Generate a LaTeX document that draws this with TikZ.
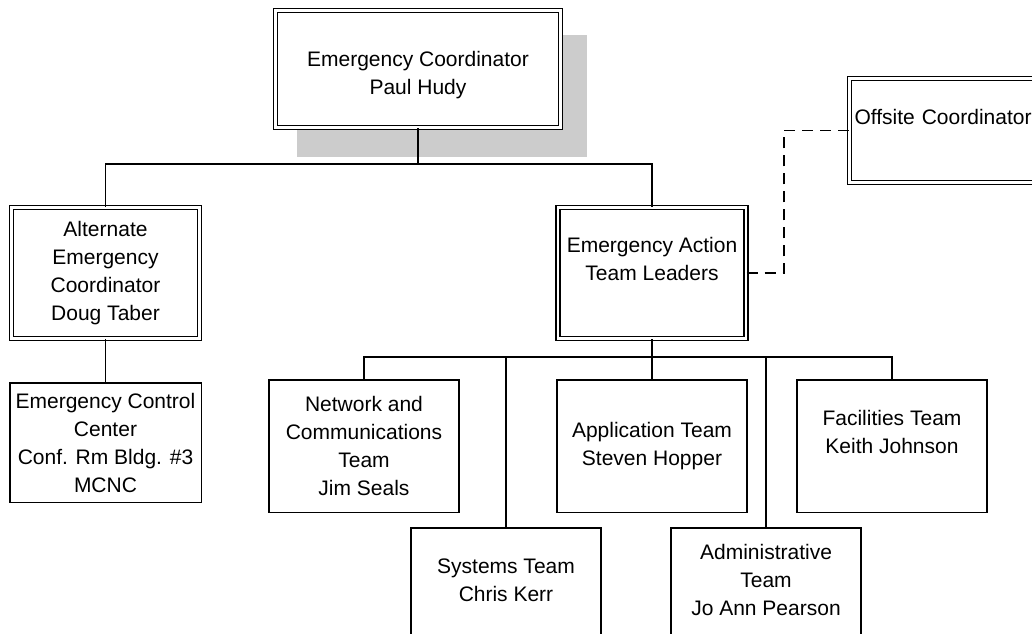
\documentclass[tikz,border=0pt]{standalone}
\usepackage{fontspec}
\setmainfont{Liberation Sans}
\usetikzlibrary{positioning}

\tikzset{
  unit/.style={draw, line width=1.5pt, fill=white, align=center, inner sep=3pt,
    font=\fontsize{21}{28}\selectfont, minimum width=190pt, minimum height=132.5pt},
  lead/.style={unit, line width=1.3pt, double, double distance=2.6pt},
  link/.style={line width=1.5pt},
  dotlink/.style={line width=1.5pt, dash pattern=on 11pt off 7pt},
}

\begin{document}
\begin{tikzpicture}[x=1pt,y=1pt,yscale=-1]
        \useasboundingbox (0,0) rectangle (1032,633);
        \clip (0,0) rectangle (1032,633);

        %Shadow behind the coordinator box
        \fill [black!20] (297,35) rectangle (587,157);

        % Leading boxes
        \node [lead, minimum width=285pt, minimum height=117pt] (coord) at (418,69) {\rule{0pt}{27pt}Emergency Coordinator\\Paul Hudy};
        \node [lead, minimum width=188pt, minimum height=131pt] (altcoord) at (105.5,273) {Alternate\\Emergency\\Coordinator\\Doug Taber};
        \node [lead, minimum width=188pt, minimum height=131pt] (actlead) at (652,273) {Emergency Action\\Team Leaders\\\mbox{}};
        \node [lead, minimum width=0pt, minimum height=104pt, text width=180pt, align=left, inner sep=5pt] (offsite) at (944.5,130.5) {Offsite Coordinator\\\mbox{}};

        % Team boxes
        \node [unit, minimum width=191.5pt, minimum height=119.5pt] (ctrl) at (105.5,442.5) {Emergency Control\\Center\\Conf. Rm Bldg. \#3\\MCNC};
        \node [unit] (netteam) at (364,446) {Network and\\Communications\\Team\\Jim Seals};
        \node [unit] (appteam) at (652,446) {Application Team\\Steven Hopper};
        \node [unit] (facteam) at (892,446) {Facilities Team\\Keith Johnson\\\mbox{}};
        \node [unit] (systeam) at (506,594) {Systems Team\\Chris Kerr\\\mbox{}};
        \node [unit] (admteam) at (766,594) {Administrative\\Team\\Jo Ann Pearson\\\mbox{}};

        % Bus lines
        \coordinate (bus1) at (418,164);
        \coordinate (bus2) at (652,357);
        \coordinate (jog) at (784,273);

        \draw [link] (coord.south) -- (bus1);
        \draw [link] (altcoord.north) |- (bus1) -| (actlead.north);
        \draw [link] (altcoord.south) -- (ctrl.north);
        \draw [link] (actlead.south) -- (appteam.north);
        \draw [link] (netteam.north) |- (bus2) -| (facteam.north);
        \draw [link] (systeam.north) |- (bus2);
        \draw [link] (admteam.north) |- (bus2);
        \draw [dotlink] (actlead.east) -- (jog) |- (offsite.west);

\end{tikzpicture}
\end{document}
